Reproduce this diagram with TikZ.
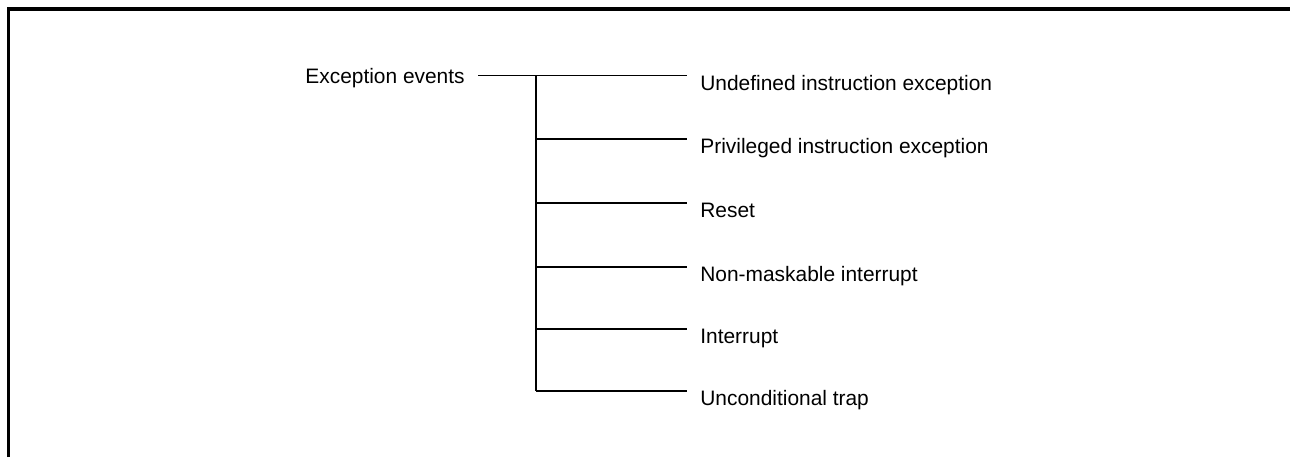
\documentclass[tikz,border=0pt]{standalone}
\usepackage{fontspec}
\setmainfont{Liberation Sans}
\usetikzlibrary{positioning}

\tikzset{
  evlabel/.style={font=\fontsize{11.9}{14}\selectfont, inner sep=0pt},
  evline/.style={line width=0.9pt}
}

\begin{document}
\begin{tikzpicture}

\useasboundingbox (0,0) rectangle (25.8,9.14);

% Frame (top and left edges only)
\draw[line width=2pt] (0.17,0) -- (0.17,8.96) -- (25.8,8.96);

% Root label
\node[evlabel, anchor=base east] (root) at (9.30,7.48) {Exception events};

% Branch ends and their labels
\foreach \i/\y/\txt in {1/7.63/Undefined instruction exception,
                        2/6.36/Privileged instruction exception,
                        3/5.08/Reset,
                        4/3.80/Non-maskable interrupt,
                        5/2.56/Interrupt,
                        6/1.32/Unconditional trap}{
  \coordinate (e\i) at (13.74,\y);
  \node[evlabel, anchor=base west] (ev\i) at (14.0,\y-0.29) {\txt};
}

% Junction on the spine
\coordinate (j) at (10.72,7.63);

% Connectors
\draw[evline] ([xshift=0.26cm]root.east |- e1) -- (e1);
\draw[evline] (j) -- (j |- e6);
\foreach \i in {2,...,6}
  \draw[evline] (j |- e\i) -- (e\i);

\end{tikzpicture}
\end{document}
